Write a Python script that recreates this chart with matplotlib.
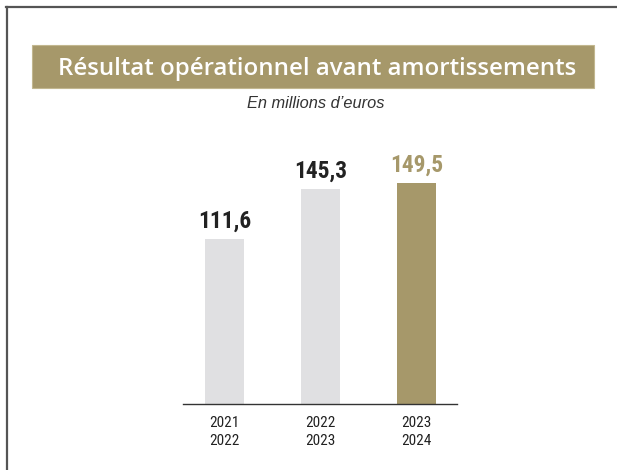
#import the libraries
import matplotlib.pyplot as plt
from matplotlib.patches import Rectangle
from matplotlib.lines import Line2D

# data
periods = ["2021\n2022", "2022\n2023", "2023\n2024"]
values = [111.6, 145.3, 149.5]
value_labels = ["111,6", "145,3", "149,5"]

gold = "#a6986a"
grey = "#e0e0e2"
dark = "#222222"
bar_colors = [grey, grey, gold]
label_colors = [dark, dark, gold]

W, H = 617, 470
fig = plt.figure(figsize=(W / 100, H / 100), dpi=100)

narrow = ["Roboto Condensed", "Roboto", "DejaVu Sans"]

# frame lines (top and left only)
fig.add_artist(Line2D([6 / W, 1], [1 - 7 / H, 1 - 7 / H], color="#555555", lw=1.6))
fig.add_artist(Line2D([7 / W, 7 / W], [0, 1 - 7 / H], color="#555555", lw=1.6))

# title banner
fig.add_artist(Rectangle((32 / W, 1 - 88 / H), 562 / W, 43 / H, facecolor=gold,
                         edgecolor="#c2b78f", lw=0.8))
fig.text(317 / W, 1 - 75 / H, "Résultat opérationnel avant amortissements",
         ha="center", va="baseline", color="white", fontsize=17.3,
         family=["Open Sans", "DejaVu Sans"], fontweight="semibold")
fig.text(316 / W, 1 - 103 / H, "En millions d\u2019euros", ha="center", va="center",
         color="#333333", fontsize=11.8, style="italic",
         family=["Liberation Sans", "DejaVu Sans"])

# bars
ax = fig.add_axes([183 / W, 1 - 404 / H, 274 / W, 264 / H])
x = range(len(values))
ax.bar(x, values, width=0.406, color=bar_colors)
for i, v in enumerate(values):
    ax.annotate(value_labels[i], (i, v), xytext=(0, 8), textcoords="offset points",
                ha="center", va="baseline", fontsize=16.8, fontweight="bold",
                color=label_colors[i], family=narrow)

ax.set_xlim(-0.432, 2.42)
ax.set_ylim(0, 178.5)
ax.set_xticks(list(x))
ax.set_xticklabels(periods, family=narrow, fontsize=11, color=dark, linespacing=1.35)
ax.tick_params(axis="x", length=0, pad=8.5)
ax.set_yticks([])
for s in ["top", "left", "right"]:
    ax.spines[s].set_visible(False)
ax.spines["bottom"].set_color("#333333")
ax.spines["bottom"].set_linewidth(1.0)
ax.patch.set_alpha(0)

plt.savefig("out.png", dpi=100)
